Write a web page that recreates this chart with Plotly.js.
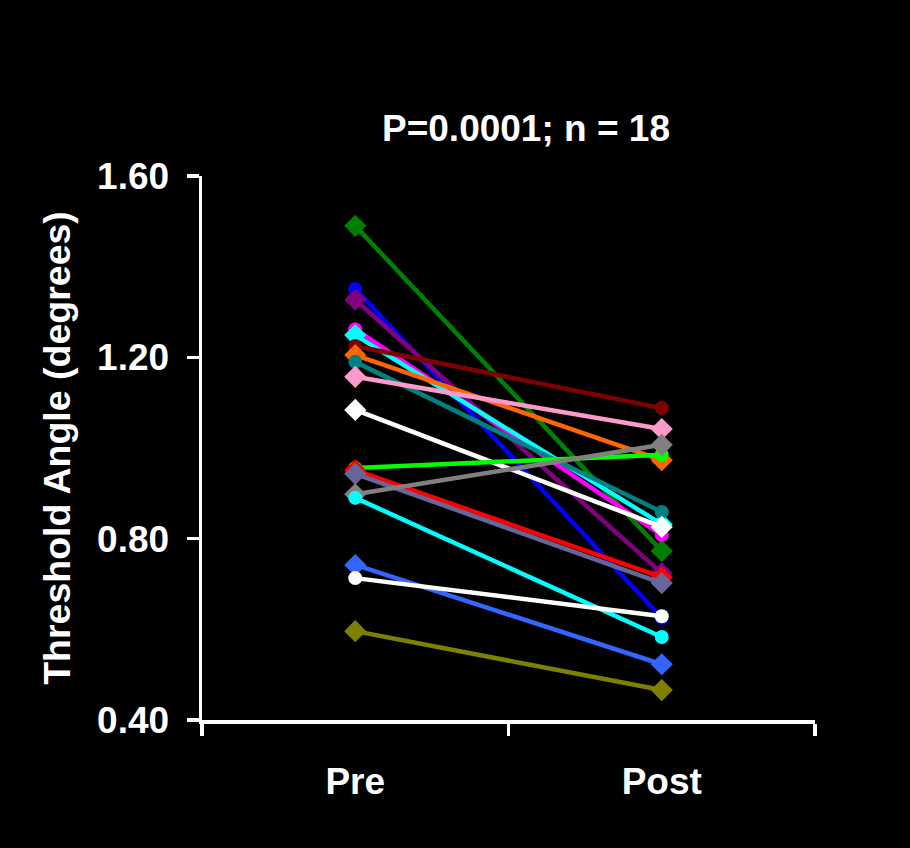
<!DOCTYPE html>
<html>
<head>
<meta charset="utf-8">
<script src="https://cdn.plot.ly/plotly-3.0.1.min.js"></script>
<style>html,body{margin:0;padding:0;background:#000;}#chart{width:910px;height:848px;}</style>
</head>
<body>
<div id="chart"></div>
<script>
const categories = ["Pre", "Post"];
const preValues  = [1.490, 1.351, 1.327, 1.262, 1.249, 1.225, 1.205, 1.190, 1.157, 1.084, 0.956, 0.951, 0.943, 0.898, 0.890, 0.742, 0.713, 0.596];
const postValues = [0.773, 0.625, 0.724, 0.808, 0.832, 1.088, 0.973, 0.859, 1.042, 0.826, 0.985, 0.715, 0.702, 1.007, 0.583, 0.523, 0.629, 0.466];
const lineColors = ["#008000", "#0000FF", "#800080", "#FF00FF", "#00FFFF", "#800000", "#FF6600", "#008080", "#FF99CC", "#FFFFFF", "#00FF00", "#FF0000", "#666699", "#808080", "#00FFFF", "#3366FF", "#FFFFFF", "#808000"];
const markerSymbols = ["diamond", "circle", "diamond", "circle", "diamond", "circle", "diamond", "circle", "diamond", "diamond", "circle", "diamond", "diamond", "diamond", "circle", "diamond", "circle", "diamond"];
const titleText = "P=0.0001; n = 18";
const yTitle = "Threshold Angle (degrees)";
const yTicks = [0.40, 0.80, 1.20, 1.60];

const traces = preValues.map((v, i) => ({
  type: "scatter",
  mode: "lines+markers",
  x: categories,
  y: [v, postValues[i]],
  line: {color: lineColors[i], width: 4.5},
  marker: {color: lineColors[i], symbol: markerSymbols[i], size: markerSymbols[i] === "diamond" ? 17 : 14},
  showlegend: false,
  hoverinfo: "y"
}));

const font = {family: "Liberation Sans, Arial, sans-serif", color: "#FFFFFF"};
const layout = {
  width: 910, height: 848,
  paper_bgcolor: "#000000", plot_bgcolor: "#000000",
  margin: {l: 202, r: 95, t: 176, b: 128},
  font: font,
  title: {text: "<b>" + titleText + "</b>", font: {family: font.family, size: 37, color: "#FFFFFF"},
          xref: "container", yref: "container", x: 0.578, xanchor: "center", y: 1 - 128/848, yanchor: "middle"},
  xaxis: {
    type: "category", range: [-0.5, 1.5], tickson: "boundaries",
    showline: true, linecolor: "#FFFFFF", linewidth: 3.5,
    ticks: "outside", ticklen: 12, tickwidth: 3.5, tickcolor: "#FFFFFF",
    showgrid: false, zeroline: false,
    tickfont: {family: font.family, size: 37, color: "#FFFFFF", weight: "bold"},
    ticklabelstandoff: 26
  },
  yaxis: {
    range: [0.4, 1.6], tickvals: yTicks, ticktext: yTicks.map(t => t.toFixed(2)),
    showline: true, linecolor: "#FFFFFF", linewidth: 3.5,
    ticks: "outside", ticklen: 12, tickwidth: 3.5, tickcolor: "#FFFFFF",
    showgrid: false, zeroline: false,
    tickfont: {family: font.family, size: 37, color: "#FFFFFF", weight: "bold"},
    ticklabelstandoff: 10,
    title: {text: "<b>" + yTitle + "</b>", font: {family: font.family, size: 37.5, color: "#FFFFFF"}, standoff: 16}
  }
};

Plotly.newPlot("chart", traces, layout, {displayModeBar: false, staticPlot: true});
</script>
</body>
</html>
